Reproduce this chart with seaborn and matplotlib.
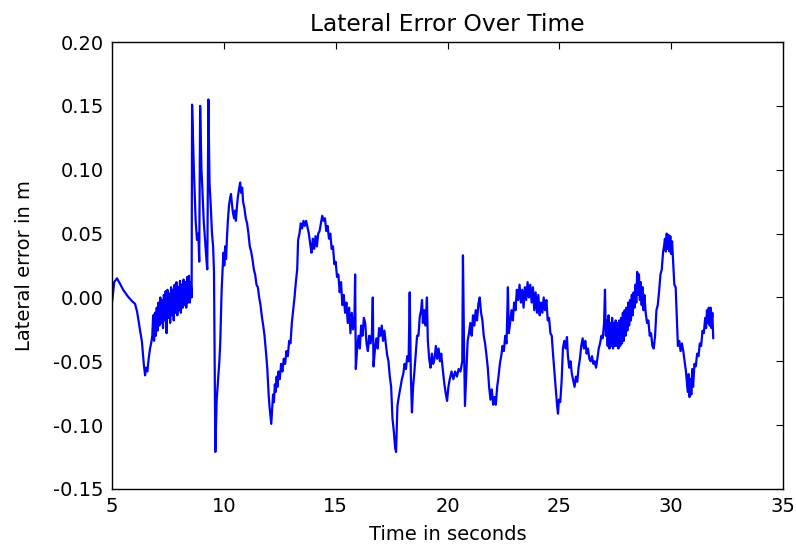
import matplotlib
matplotlib.use("Agg")
import matplotlib.pyplot as plt
import seaborn as sns
import pandas as pd

time_s = [
    5.00, 5.10, 5.22, 5.35, 5.50, 5.70, 5.90, 6.03, 6.12, 6.22, 6.34, 6.42, 6.48, 6.52, 6.58, 6.64, 6.70, 6.76,
    6.80, 6.84, 6.88, 6.92, 6.96, 7.00, 7.04, 7.08, 7.12, 7.16, 7.20, 7.24, 7.28, 7.32, 7.36, 7.40, 7.44, 7.48,
    7.52, 7.56, 7.60, 7.64, 7.68, 7.72, 7.76, 7.80, 7.84, 7.88, 7.92, 7.96, 8.00, 8.04, 8.08, 8.12, 8.16, 8.20,
    8.24, 8.28, 8.32, 8.36, 8.40, 8.44, 8.48, 8.52, 8.56,
    8.58, 8.66, 8.74, 8.80, 8.86, 8.90, 8.94, 9.00, 9.04, 9.10, 9.16, 9.22, 9.26, 9.31, 9.36, 9.42, 9.47, 9.52,
    9.56, 9.62, 9.68, 9.72, 9.80, 9.84, 9.90, 9.94, 9.98,
    10.02, 10.06, 10.10, 10.14, 10.18, 10.23, 10.28, 10.32, 10.37, 10.41, 10.46, 10.50, 10.54, 10.59, 10.63,
    10.68, 10.73, 10.77, 10.82, 10.86, 10.92, 10.98, 11.04, 11.10, 11.16, 11.22, 11.28, 11.34, 11.40, 11.46,
    11.52, 11.58, 11.64, 11.70, 11.76, 11.82, 11.88, 11.94, 12.00, 12.04, 12.08, 12.12, 12.16, 12.20, 12.24,
    12.28, 12.32, 12.36, 12.40, 12.44, 12.50, 12.56, 12.62, 12.68, 12.74, 12.80, 12.86, 12.92, 12.98, 13.04,
    13.10, 13.16, 13.22, 13.28, 13.32, 13.38, 13.44, 13.50, 13.56, 13.62, 13.68, 13.74, 13.80, 13.86, 13.92,
    13.98, 14.04, 14.10, 14.16, 14.22, 14.28, 14.34, 14.40, 14.46, 14.52, 14.58, 14.64, 14.70, 14.76, 14.82,
    14.88, 14.94, 15.00, 15.06, 15.12, 15.18, 15.24, 15.30, 15.36, 15.42, 15.48, 15.54, 15.60, 15.66, 15.72,
    15.78, 15.84, 15.87, 15.90, 15.96, 16.02, 16.08, 16.14, 16.20, 16.26, 16.32, 16.38, 16.44, 16.50, 16.56,
    16.62, 16.66, 16.69, 16.76, 16.82, 16.88, 16.94, 17.00, 17.06, 17.12, 17.18, 17.24, 17.30, 17.36, 17.42,
    17.48, 17.54, 17.60, 17.66, 17.70, 17.76, 17.82, 17.90, 17.96, 18.02, 18.08, 18.14, 18.20, 18.26, 18.31,
    18.36, 18.41, 18.46, 18.52, 18.58, 18.64, 18.70, 18.76, 18.82, 18.86, 18.90, 18.96, 19.02, 19.08, 19.12,
    19.18, 19.24, 19.30, 19.36, 19.42, 19.48, 19.54, 19.60, 19.66, 19.72, 19.78, 19.86, 19.92, 19.98, 20.04,
    20.10, 20.18, 20.26, 20.34, 20.42, 20.50, 20.58, 20.66, 20.69, 20.74, 20.78, 20.84, 20.90, 20.96, 21.02,
    21.08, 21.14, 21.20, 21.26, 21.32, 21.38, 21.44, 21.50, 21.56, 21.62, 21.68, 21.74, 21.80, 21.86, 21.92,
    21.98, 22.04, 22.10, 22.16, 22.22, 22.28, 22.34, 22.40, 22.46, 22.52, 22.58, 22.64, 22.70, 22.74, 22.80,
    22.86, 22.92, 22.98, 23.04, 23.10, 23.16, 23.22, 23.28, 23.34, 23.40, 23.46, 23.52, 23.58, 23.64, 23.70,
    23.76, 23.82, 23.88, 23.94, 24.00, 24.06, 24.12, 24.18, 24.24, 24.30, 24.36, 24.42, 24.48, 24.54, 24.60,
    24.66, 24.72, 24.78, 24.84, 24.90, 24.94, 24.98, 25.04, 25.10, 25.16, 25.22, 25.28, 25.34, 25.38, 25.44,
    25.50, 25.56, 25.62, 25.68, 25.74, 25.80, 25.86, 25.92, 25.98, 26.04, 26.10, 26.16, 26.22, 26.28, 26.34,
    26.40, 26.46, 26.52, 26.58, 26.64, 26.70, 26.76, 26.82, 26.88, 26.94, 27.00, 27.04, 27.08,
    27.12, 27.16, 27.20, 27.24, 27.28, 27.32, 27.36, 27.40, 27.44, 27.48, 27.52, 27.56, 27.60, 27.64, 27.68,
    27.72, 27.76, 27.80, 27.84, 27.88, 27.92, 27.96, 28.00, 28.04, 28.08, 28.12, 28.16, 28.20, 28.24, 28.28,
    28.32, 28.36, 28.40, 28.44, 28.48, 28.52, 28.56, 28.60, 28.64, 28.68, 28.72, 28.76, 28.80, 28.86, 28.92,
    28.98, 29.04, 29.10, 29.16, 29.22, 29.28, 29.34, 29.40, 29.46, 29.52, 29.58, 29.64, 29.68, 29.72, 29.76,
    29.80, 29.84, 29.88, 29.92, 29.96, 30.00, 30.04, 30.08, 30.14, 30.20, 30.26, 30.30, 30.36, 30.42, 30.48,
    30.54, 30.60, 30.66, 30.70, 30.74, 30.78, 30.82, 30.86, 30.90, 30.94, 30.98, 31.04, 31.10, 31.16, 31.22,
    31.28, 31.34, 31.40, 31.46, 31.52, 31.56, 31.60, 31.64, 31.68, 31.72, 31.76, 31.80, 31.84, 31.88,
]

lateral_err = [
    -0.004, 0.012, 0.015, 0.011, 0.006, 0.001, -0.003, -0.005, -0.011, -0.022, -0.035, -0.052, -0.061, -0.055, -0.058, -0.048, -0.040, -0.035,
    -0.030, -0.014, -0.034, -0.012, -0.030, -0.008, -0.026, -0.004, -0.022, 0.000, -0.020, -0.002, -0.024, 0.002, -0.018, 0.005, -0.028, 0.006,
    -0.016, 0.003, -0.020, 0.008, -0.014, 0.006, -0.018, 0.010, -0.012, 0.012, -0.014, 0.008, -0.010, 0.013, -0.012, 0.010, -0.008, 0.014,
    -0.006, 0.012, -0.008, 0.016, -0.004, 0.017, -0.004, 0.012, 0.000,
    0.151, 0.100, 0.060, 0.045, 0.050, 0.028, 0.150, 0.100, 0.085, 0.060, 0.045, 0.030, 0.022, 0.155, 0.090, 0.070, 0.050, 0.040,
    0.020, -0.121, -0.080, -0.070, -0.050, -0.035, 0.005, 0.020, 0.035,
    0.025, 0.040, 0.030, 0.047, 0.060, 0.072, 0.078, 0.081, 0.072, 0.066, 0.062, 0.068, 0.060, 0.072, 0.079,
    0.085, 0.090, 0.082, 0.086, 0.075, 0.070, 0.062, 0.058, 0.050, 0.040, 0.036, 0.030, 0.022, 0.018, 0.010,
    0.008, 0.000, -0.006, -0.015, -0.022, -0.030, -0.042, -0.055, -0.075, -0.085, -0.092, -0.099, -0.088, -0.076, -0.082,
    -0.068, -0.074, -0.062, -0.070, -0.058, -0.064, -0.052, -0.058, -0.048, -0.052, -0.042, -0.046, -0.034, -0.036, -0.020,
    -0.010, 0.000, 0.012, 0.022, 0.045, 0.050, 0.058, 0.054, 0.060, 0.056, 0.060, 0.055, 0.050, 0.042, 0.035,
    0.046, 0.038, 0.048, 0.040, 0.050, 0.052, 0.058, 0.064, 0.060, 0.062, 0.052, 0.056, 0.046, 0.050, 0.038,
    0.040, 0.026, 0.028, 0.016, 0.018, 0.004, 0.012, -0.006, 0.002, -0.012, -0.004, -0.020, -0.008, -0.028, -0.012,
    -0.025, -0.015, 0.018, -0.056, -0.040, -0.030, -0.040, -0.022, -0.030, -0.016, -0.020, -0.036, -0.042, -0.030, -0.036,
    -0.028, 0.000, -0.054, -0.040, -0.032, -0.040, -0.024, -0.030, -0.022, -0.034, -0.026, -0.036, -0.045, -0.050, -0.062,
    -0.070, -0.095, -0.105, -0.118, -0.121, -0.085, -0.078, -0.070, -0.064, -0.060, -0.052, -0.056, -0.046, -0.050, 0.004,
    -0.060, -0.090, -0.070, -0.058, -0.044, -0.030, -0.030, -0.015, -0.010, -0.002, -0.020, -0.010, -0.022, 0.000, -0.034,
    -0.048, -0.055, -0.044, -0.052, -0.048, -0.038, -0.048, -0.040, -0.050, -0.044, -0.055, -0.068, -0.075, -0.081, -0.070,
    -0.064, -0.058, -0.064, -0.058, -0.062, -0.056, -0.058, -0.050, 0.033, -0.040, -0.085, -0.060, -0.034, -0.028, -0.020,
    -0.030, -0.014, -0.022, -0.010, -0.018, -0.005, 0.000, -0.012, -0.018, -0.030, -0.036, -0.045, -0.055, -0.070, -0.080,
    -0.072, -0.084, -0.078, -0.084, -0.070, -0.062, -0.052, -0.046, -0.038, -0.042, -0.030, -0.036, 0.008, -0.028, -0.020,
    -0.010, -0.018, -0.004, -0.010, 0.006, -0.002, 0.010, -0.004, 0.006, -0.008, 0.008, -0.002, 0.012, 0.000, 0.010,
    -0.004, 0.008, -0.010, 0.004, -0.012, 0.002, -0.014, -0.004, -0.012, 0.000, -0.010, -0.002, -0.018, -0.016, -0.028,
    -0.030, -0.045, -0.058, -0.070, -0.085, -0.091, -0.080, -0.082, -0.066, -0.040, -0.034, -0.040, -0.031, -0.045, -0.055,
    -0.050, -0.060, -0.065, -0.070, -0.062, -0.066, -0.055, -0.048, -0.038, -0.032, -0.040, -0.034, -0.044, -0.040, -0.048,
    -0.050, -0.046, -0.052, -0.050, -0.055, -0.048, -0.040, -0.036, -0.030, -0.032, -0.020, 0.006, -0.030,
    -0.018, -0.038, -0.014, -0.040, -0.020, -0.038, -0.016, -0.040, -0.020, -0.038, -0.018, -0.038, -0.020, -0.040, -0.018,
    -0.038, -0.016, -0.036, -0.012, -0.034, -0.010, -0.030, -0.008, -0.026, -0.004, -0.022, -0.002, -0.018, 0.002, -0.014,
    0.004, -0.008, 0.010, -0.004, 0.020, 0.002, 0.018, -0.002, 0.012, -0.006, 0.008, -0.010, 0.002, -0.012, -0.020,
    -0.018, -0.030, -0.028, -0.038, -0.040, -0.030, -0.010, -0.006, 0.005, 0.018, 0.022, 0.036, 0.040, 0.046, 0.036,
    0.050, 0.038, 0.049, 0.036, 0.048, 0.034, 0.044, 0.030, 0.010, 0.008, -0.020, -0.038, -0.034, -0.042, -0.036,
    -0.042, -0.050, -0.058, -0.066, -0.074, -0.060, -0.078, -0.064, -0.076, -0.056, -0.070, -0.052, -0.054, -0.044, -0.046,
    -0.036, -0.038, -0.026, -0.028, -0.016, -0.024, -0.010, -0.020, -0.008, -0.022, -0.008, -0.024, -0.012, -0.032,
]

x_ticks = [5, 10, 15, 20, 25, 30, 35]
y_ticks = [-0.15, -0.10, -0.05, 0.00, 0.05, 0.10, 0.15, 0.20]

df = pd.DataFrame({"time": time_s, "err": lateral_err})

sns.set_style("white")
plt.rcParams["font.family"] = ["DejaVu Sans"]
plt.rcParams["text.color"] = "black"
plt.rcParams["axes.labelcolor"] = "black"

fig = plt.figure(figsize=(7.96, 5.46), dpi=100)
ax = fig.add_axes([0.1407, 0.1044, 0.843, 0.8186])
sns.lineplot(data=df, x="time", y="err", estimator=None, sort=False,
             color="#0000ff", linewidth=1.6, ax=ax)

ax.set_xlim(5, 35)
ax.set_ylim(-0.15, 0.20)
ax.set_xticks(x_ticks)
ax.set_yticks(y_ticks)
ax.set_yticklabels([f"{v:.2f}" for v in y_ticks])
ax.tick_params(axis="both", which="both", direction="in", length=5, width=0.8,
               top=True, right=True, labelsize=14, pad=6, colors="black",
               labelcolor="black")
for s in ax.spines.values():
    s.set_visible(True)
    s.set_color("black")
    s.set_linewidth(1.0)
ax.set_title("Lateral Error Over Time", fontsize=16.8, pad=8, color="black")
ax.set_xlabel("Time in seconds", fontsize=14, color="black", labelpad=6)
ax.set_ylabel("Lateral error in m", fontsize=14, color="black", labelpad=14)

fig.savefig("out.png", dpi=100, facecolor="white")
